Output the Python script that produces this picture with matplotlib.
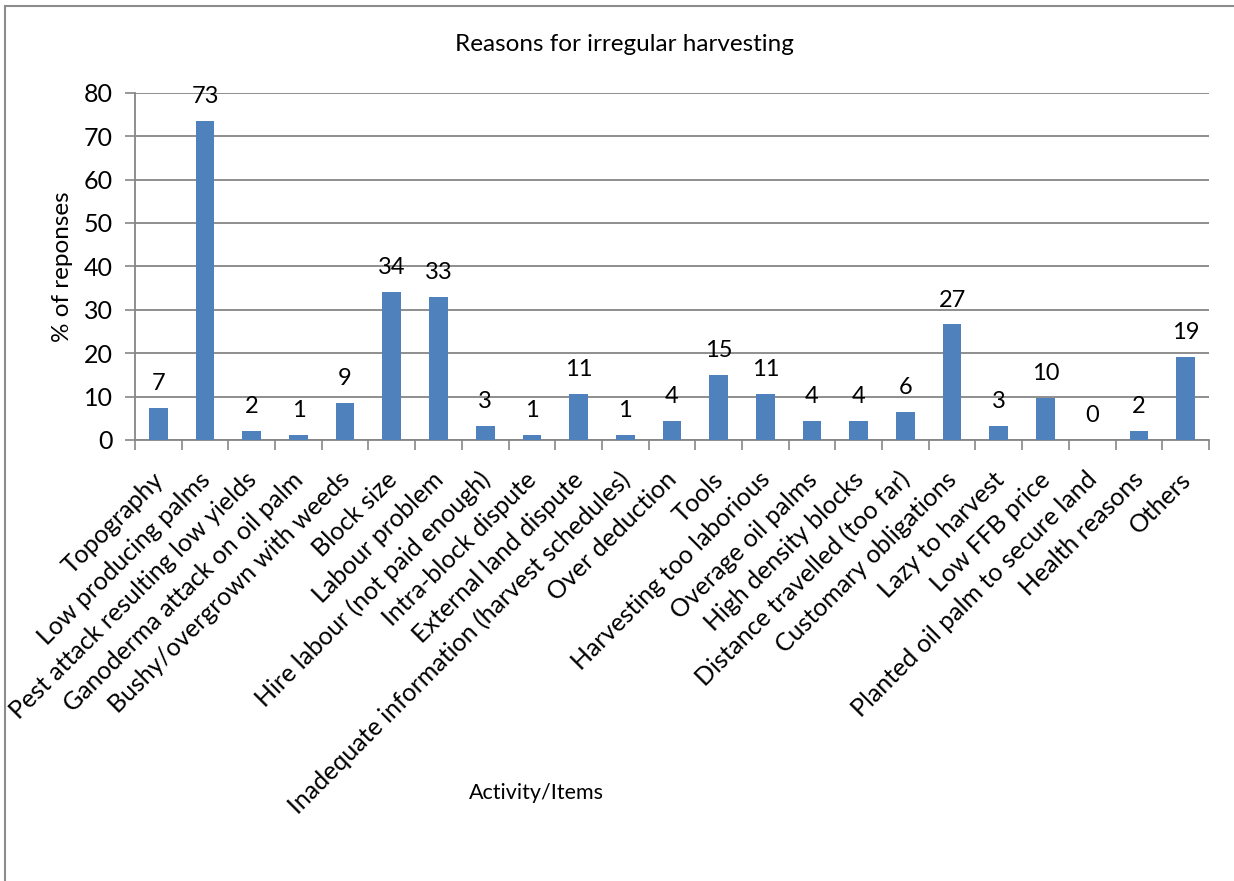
import matplotlib.pyplot as plt
from matplotlib.lines import Line2D
from matplotlib.transforms import ScaledTranslation

plt.rcParams['font.family'] = ['Lato', 'DejaVu Sans']

reasons = [
    "Topography",
    "Low producing palms",
    "Pest attack resulting low yields",
    "Ganoderma attack on oil palm",
    "Bushy/overgrown with weeds",
    "Block size",
    "Labour problem",
    "Hire labour (not paid enough)",
    "Intra-block dispute",
    "External land dispute",
    "Inadequate information (harvest schedules)",
    "Over deduction",
    "Tools",
    "Harvesting too laborious",
    "Overage oil palms",
    "High density blocks",
    "Distance travelled (too far)",
    "Customary obligations",
    "Lazy to harvest",
    "Low FFB price",
    "Planted oil palm to secure land",
    "Health reasons",
    "Others",
]
pct = [7.4, 73.4, 2.1, 1.1, 8.5, 34.0, 33.0, 3.2, 1.1, 10.6, 1.1, 4.3,
       14.9, 10.6, 4.3, 4.3, 6.4, 26.6, 3.2, 9.6, 0.0, 2.1, 19.1]
yticks = [0, 10, 20, 30, 40, 50, 60, 70, 80]

bar_col = "#4F81BD"
grid_col = "#868686"

fig = plt.figure(figsize=(12.34, 8.81), dpi=100)
ax = fig.add_axes([0.1094, 0.5006, 0.8703, 0.3942])

x = list(range(len(reasons)))
bars = ax.bar(x, pct, width=0.4, color=bar_col, zorder=3)

# whole-number labels, halves rounded up
for b, v in zip(bars, pct):
    ax.annotate(str(int(v + 0.5)), (b.get_x() + b.get_width() / 2, v),
                xytext=(0, 10), textcoords="offset points",
                ha="center", va="bottom", fontsize=17)

ax.set_xlim(-0.5, len(reasons) - 0.5)
ax.set_ylim(0, 80)
ax.set_yticks(yticks)
ax.tick_params(axis="y", labelsize=18, length=7, width=1.2,
               color=grid_col, pad=9)
ax.yaxis.grid(True, color=grid_col, linewidth=1.3, zorder=0)
ax.set_axisbelow(True)

# ticks between categories, names under the bar centres
ax.set_xticks([i - 0.5 for i in range(len(reasons) + 1)])
ax.set_xticklabels([])
ax.tick_params(axis="x", length=7, width=1.2, color=grid_col)
ax.set_xticks(x, minor=True)
ax.set_xticklabels(reasons, minor=True, rotation=45, ha="right",
                   va="top", rotation_mode="anchor", fontsize=18)
ax.tick_params(axis="x", which="minor", length=0, pad=20)
shift = ScaledTranslation(-5 / 72, 0, fig.dpi_scale_trans)
for lbl in ax.get_xticklabels(minor=True):
    lbl.set_transform(lbl.get_transform() + shift)

for side in ("top", "right"):
    ax.spines[side].set_visible(False)
for side in ("left", "bottom"):
    ax.spines[side].set_color(grid_col)
    ax.spines[side].set_linewidth(1.3)

ax.set_ylabel("% of reponses", fontsize=17.5, labelpad=8)
fig.text(0.506, 0.949, "Reasons for irregular harvesting",
         ha="center", va="center", fontsize=17.5)
fig.text(0.435, 0.100, "Activity/Items", ha="center", va="center",
         fontsize=15.5)

# chart frame (left and top edges)
fig.add_artist(Line2D([0.004, 0.004], [0.0, 0.9935],
                      transform=fig.transFigure, color="#8c8c8c", lw=1.5))
fig.add_artist(Line2D([0.004, 1.0], [0.9935, 0.9935],
                      transform=fig.transFigure, color="#8c8c8c", lw=1.5))

fig.savefig("out.png", dpi=100)
